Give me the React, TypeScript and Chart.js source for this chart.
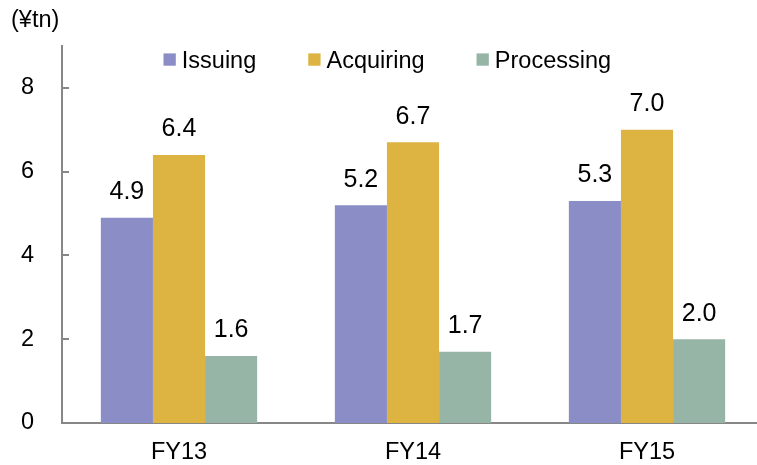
import { useEffect, useRef } from "react";
import { Chart, registerables } from "chart.js";

Chart.register(...registerables);

// Transaction volume by business segment (¥ trillion)
const categories = ["FY13", "FY14", "FY15"];
const seriesNames = ["Issuing", "Acquiring", "Processing"];
const issuing = [4.9, 5.2, 5.3];
const acquiring = [6.4, 6.7, 7.0];
const processing = [1.6, 1.7, 2.0];
const yTicks = [0, 2, 4, 6, 8];
const yMax = 9;
const unitLabel = "(¥tn)";

const COLORS = ["#8B8EC6", "#DDB342", "#97B5A7"];
const AXIS_COLOR = "#878787";
const FONT_FAMILY = '"Liberation Sans", Arial, Helvetica, sans-serif';
const FONT_SIZE = 23.5;
const VALUE_FONT_SIZE = 25;

// Draws the inward y tick marks, value labels, unit caption and legend row
const decorations = {
  id: "decorations",
  afterDraw(chart: any) {
    const ctx: CanvasRenderingContext2D = chart.ctx;
    const area = chart.chartArea;
    const yScale = chart.scales.y;
    ctx.save();

    ctx.strokeStyle = AXIS_COLOR;
    ctx.lineWidth = 2;
    yTicks.forEach((v) => {
      if (v === 0) return;
      const py = Math.round(yScale.getPixelForValue(v));
      ctx.beginPath();
      ctx.moveTo(area.left, py);
      ctx.lineTo(area.left + 7, py);
      ctx.stroke();
    });

    ctx.font = `${VALUE_FONT_SIZE}px ${FONT_FAMILY}`;
    ctx.fillStyle = "#000";
    ctx.textAlign = "center";
    ctx.textBaseline = "alphabetic";
    chart.data.datasets.forEach((ds: any, i: number) => {
      const meta = chart.getDatasetMeta(i);
      meta.data.forEach((bar: any, j: number) => {
        const v = ds.data[j] as number;
        ctx.fillText(v.toFixed(1), bar.x, bar.y - 18.5);
      });
    });

    ctx.font = `${FONT_SIZE}px ${FONT_FAMILY}`;
    ctx.textAlign = "left";
    ctx.fillText(unitLabel, 11, 27);

    // legend
    let x = 163.5;
    const box = 12.3;
    chart.data.datasets.forEach((ds: any) => {
      ctx.fillStyle = ds.backgroundColor;
      ctx.fillRect(x, 53.4, box, box);
      ctx.fillStyle = "#000";
      const tx = x + box + 6;
      ctx.fillText(ds.label, tx, 68.3);
      x = tx + ctx.measureText(ds.label).width + 52;
    });

    ctx.restore();
  },
};

export default function App() {
  const canvasRef = useRef<HTMLCanvasElement | null>(null);

  useEffect(() => {
    if (!canvasRef.current) return;
    const seriesData = [issuing, acquiring, processing];
    const chart = new Chart(canvasRef.current, {
      type: "bar",
      data: {
        labels: categories,
        datasets: seriesNames.map((name, i) => ({
          label: name,
          data: seriesData[i],
          backgroundColor: COLORS[i],
          borderWidth: 0,
          barPercentage: 1,
          categoryPercentage: 0.668,
        })),
      },
      options: {
        animation: false,
        responsive: true,
        maintainAspectRatio: false,
        layout: { padding: { left: 21, top: 46, right: 0, bottom: 0 } },
        plugins: {
          legend: { display: false },
          tooltip: { enabled: false },
          title: { display: false },
        },
        scales: {
          x: {
            grid: { display: false, drawTicks: false },
            border: { display: true, color: AXIS_COLOR, width: 2 },
            ticks: {
              color: "#000",
              padding: 16,
              maxRotation: 0,
              minRotation: 0,
              font: { family: FONT_FAMILY, size: FONT_SIZE },
            },
            afterFit: (scale: any) => {
              scale.height = 39;
              scale.paddingLeft = 0;
              scale.paddingRight = 0;
            },
          },
          y: {
            min: 0,
            max: yMax,
            grid: { display: false, drawTicks: false },
            border: { display: true, color: AXIS_COLOR, width: 2 },
            ticks: {
              stepSize: 2,
              color: "#000",
              padding: 28,
              font: { family: FONT_FAMILY, size: FONT_SIZE },
            },
            afterBuildTicks: (scale: any) => {
              scale.ticks = yTicks.map((v) => ({ value: v }));
            },
            afterFit: (scale: any) => {
              scale.width = 41;
            },
          },
        },
      },
      plugins: [decorations],
    });
    return () => chart.destroy();
  }, []);

  return (
    <div
      style={{
        position: "fixed",
        left: 0,
        top: 0,
        width: 757,
        height: 465,
        overflow: "hidden",
        background: "#fff",
      }}
    >
      <div style={{ position: "relative", width: 764, height: 465 }}>
        <canvas ref={canvasRef} />
      </div>
    </div>
  );
}
